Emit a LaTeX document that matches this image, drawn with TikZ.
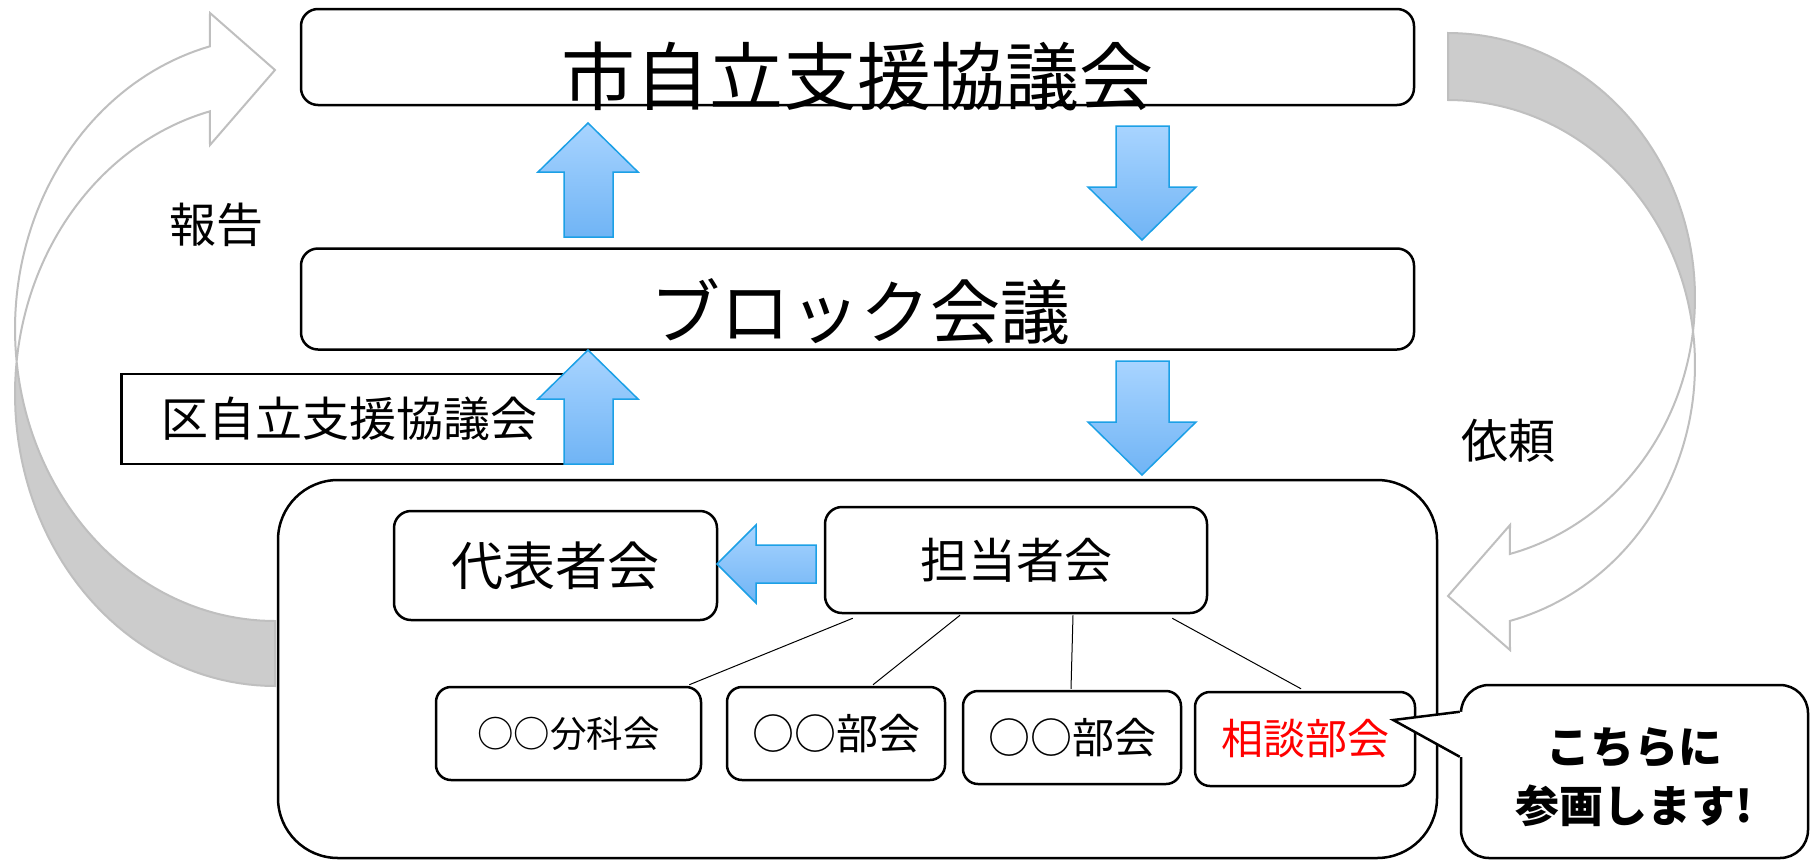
\documentclass[tikz,border=0pt]{standalone}
\usepackage{fontspec}
\setmainfont{Noto Sans CJK JP}
\usetikzlibrary{calc}
\definecolor{arrowtop}{RGB}{168,212,255}
\definecolor{arrowbot}{RGB}{112,180,245}
\definecolor{arrowline}{RGB}{28,160,230}
\definecolor{ribbonfill}{RGB}{204,204,204}
\definecolor{ribbonline}{RGB}{191,191,191}
\begin{document}
\begin{tikzpicture}[x=1pt,y=-1pt,
  box/.style={draw=black, line width=2.5pt, fill=white, inner sep=0pt},
  bigradius/.style={rounded corners=60pt},
  midradius/.style={rounded corners=17pt},
  smallradius/.style={rounded corners=15pt},
  blockarrow/.style={draw=arrowline, line width=1.5pt, top color=arrowtop, bottom color=arrowbot},
  backface/.style={fill=ribbonfill, draw=ribbonline, line width=2pt},
  frontface/.style={fill=white, draw=ribbonline, line width=2pt},
  link/.style={draw=black, line width=1pt},
  ftitle/.style={font=\fontsize{74}{80}\selectfont},
  fblock/.style={font=\fontsize{70}{76}\selectfont},
  flabel/.style={font=\fontsize{47}{52}\selectfont},
  fdaihyo/.style={font=\fontsize{52}{58}\selectfont},
  ftanto/.style={font=\fontsize{48}{54}\selectfont},
  fsub/.style={font=\fontsize{42}{48}\selectfont},
  fsubsmall/.style={font=\fontsize{36.5}{42}\selectfont},
  fcallout/.style={font=\bfseries\fontsize{44}{59}\selectfont, align=center}
]
\useasboundingbox (0,0) rectangle (1810,860);

% ---- left curved arrow (報告) ----
\filldraw[backface] plot[domain=186.4:90, samples=50] ({275+260*cos(\x)},{394+292*sin(\x)})
  -- plot[domain=90:173.6, samples=50] ({275+260*cos(\x)},{329+292*sin(\x)}) -- cycle;
\filldraw[frontface] plot[domain=255.5:173.6, samples=50] ({275+260*cos(\x)},{329+292*sin(\x)})
  -- plot[domain=186.4:255.5, samples=50] ({275+260*cos(\x)},{394+292*sin(\x)})
  -- (210,145) -- (275,70) -- (210,13) -- cycle;

% ---- right curved arrow (依頼) ----
\filldraw[backface] plot[domain=-90:7.2, samples=50] ({1448+247*cos(\x)},{297.7+264.7*sin(\x)})
  -- plot[domain=-7.3:-90, samples=50] ({1448+247*cos(\x)},{364.7+264.7*sin(\x)}) -- cycle;
\filldraw[frontface] plot[domain=7.2:75.5, samples=50] ({1448+247*cos(\x)},{297.7+264.7*sin(\x)})
  -- (1510,525) -- (1448,596) -- (1510,650)
  -- plot[domain=75.5:-7.3, samples=50] ({1448+247*cos(\x)},{364.7+264.7*sin(\x)}) -- cycle;

\node[flabel] (hokoku) at (216,225) {報告};
\node[flabel] (irai) at (1508,441) {依頼};

% ---- main boxes ----
\node[box, midradius, minimum width=1113pt, minimum height=96pt] (top) at (857.5,57) {};
\node[ftitle] (toptext) at (857.5,76) {市自立支援協議会};

\node[box, midradius, minimum width=1113pt, minimum height=101pt] (block) at (857.5,299) {};
\node[fblock] (blocktext) at (860,312) {ブロック会議};

\node[box, minimum width=455pt, minimum height=90pt, flabel] (ku) at (349,419) {区自立支援協議会};

% ---- vertical block arrows ----
\draw[blockarrow] (564,237) -- (564,172) -- (538,172) -- (588,123) -- (638,172) -- (613,172) -- (613,237) -- cycle;
\draw[blockarrow] (564,464) -- (564,399) -- (538,399) -- (588,350) -- (638,399) -- (613,399) -- (613,464) -- cycle;
\draw[blockarrow] (1116,126) -- (1169,126) -- (1169,187) -- (1196,187) -- (1142,240) -- (1088,187) -- (1116,187) -- cycle;
\draw[blockarrow] (1116,361) -- (1169,361) -- (1169,422) -- (1196,422) -- (1142,475) -- (1088,422) -- (1116,422) -- cycle;

% ---- block of the ward ----
\node[box, bigradius, minimum width=1159pt, minimum height=378pt] (ward) at (857.5,669) {};

\node[box, midradius, minimum width=323pt, minimum height=109pt, fdaihyo] (daihyo) at (555.5,565.5) {代表者会};
\node[box, midradius, minimum width=382pt, minimum height=106pt, ftanto] (tanto) at (1016,560) {担当者会};

\node[box, smallradius, minimum width=265pt, minimum height=93pt, fsubsmall] (sub1) at (568.5,733.5) {○○分科会};
\node[box, smallradius, minimum width=218pt, minimum height=93pt, fsub] (sub2) at (836,733.5) {○○部会};
\node[box, smallradius, minimum width=218pt, minimum height=93pt, fsub] (sub3) at (1072,737.5) {○○部会};
\node[box, smallradius, minimum width=220pt, minimum height=94pt, fsub, text=red] (sub4) at (1305,739) {相談部会};

\draw[link] ([shift={(29,4)}]tanto.south west) -- ([shift={(-13,-1)}]sub1.north east);
\draw[link] ([shift={(-56,1)}]tanto.south) -- ([shift={(37,-1)}]sub2.north);
\draw[link] ([shift={(57,1)}]tanto.south) -- ([shift={(-1,-1)}]sub3.north);
\draw[link] ([shift={(-36,4)}]tanto.south east) -- ([shift={(-4,-2)}]sub4.north);

% left block arrow
\draw[blockarrow] (816,545) -- (756,545) -- (756,525) -- (717,564) -- (756,603) -- (756,583) -- (816,583) -- cycle;

% ---- callout ----
\node[box, rounded corners=28pt, minimum width=347pt, minimum height=173pt] (callout) at (1634.5,771.5) {};
\node[fcallout] (callouttext) at (1634.5,777.5) {こちらに\\参画します!};
\coordinate (ptip) at ([shift={(-23,-19)}]sub4.east);
\coordinate (pa) at ([shift={(0,28)}]callout.north west);
\coordinate (pb) at ([shift={(0,73)}]callout.north west);
\fill[white] ($(pa)+(3,0)$) -- (pa) -- (ptip) -- (pb) -- ($(pb)+(3,0)$) -- cycle;
\draw[line width=2.5pt, line join=miter] (pa) -- (ptip) -- (pb);
\end{tikzpicture}
\end{document}
